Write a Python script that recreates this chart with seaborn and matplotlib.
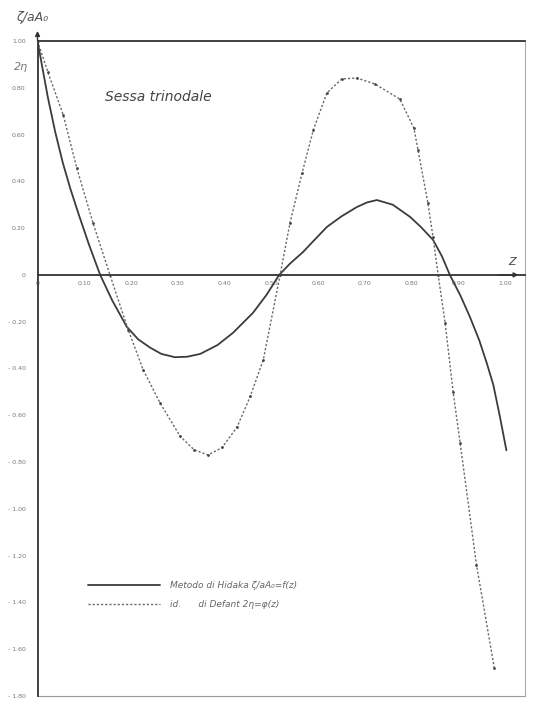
import numpy as np
import pandas as pd
import seaborn as sns
import matplotlib.pyplot as plt
from matplotlib.ticker import FixedLocator

# ---- data ----
z_hidaka = [0.0, 0.011, 0.022, 0.038, 0.054, 0.07, 0.087, 0.11, 0.134, 0.16, 0.191,
            0.215, 0.24, 0.265, 0.294, 0.32, 0.348, 0.385, 0.418, 0.461, 0.49, 0.517,
            0.54, 0.568, 0.595, 0.619, 0.65, 0.683, 0.705, 0.726, 0.76, 0.797, 0.82,
            0.846, 0.865, 0.882, 0.905, 0.925, 0.945, 0.961, 0.975, 0.989, 1.003]
f_hidaka = [1.00, 0.88, 0.76, 0.61, 0.48, 0.37, 0.265, 0.13, 0.0, -0.11, -0.222,
            -0.275, -0.31, -0.338, -0.352, -0.35, -0.338, -0.30, -0.248, -0.162, -0.085, 0.0,
            0.048, 0.098, 0.155, 0.205, 0.25, 0.29, 0.31, 0.32, 0.30, 0.248, 0.205,
            0.15, 0.08, 0.0, -0.09, -0.18, -0.28, -0.377, -0.47, -0.605, -0.75]

z_defant = [0.0, 0.022, 0.055, 0.084, 0.119, 0.155, 0.194, 0.226, 0.262, 0.305, 0.335,
            0.365, 0.395, 0.427, 0.455, 0.483, 0.519, 0.54, 0.566, 0.59, 0.619, 0.651,
            0.683, 0.722, 0.775, 0.805, 0.814, 0.835, 0.846, 0.857, 0.872, 0.889, 0.904,
            0.939, 0.977]
f_defant = [1.00, 0.868, 0.684, 0.457, 0.22, 0.0, -0.235, -0.406, -0.547, -0.69, -0.748,
            -0.77, -0.738, -0.65, -0.52, -0.363, 0.0, 0.222, 0.436, 0.62, 0.778, 0.838,
            0.842, 0.816, 0.752, 0.628, 0.534, 0.308, 0.162, 0.0, -0.206, -0.50, -0.718,
            -1.24, -1.68]

x_ticks = [0.0, 0.1, 0.2, 0.3, 0.4, 0.5, 0.6, 0.7, 0.8, 0.9, 1.0]
x_tick_labels = ["0", "0.10", "0.20", "0.30", "0.40", "0.50", "0.60", "0.70", "0.80", "0.90", "1.00"]
y_ticks = [1.0, 0.8, 0.6, 0.4, 0.2, 0.0, -0.2, -0.4, -0.6, -0.8, -1.0, -1.2, -1.4, -1.6, -1.8]
y_tick_labels = ["1.00", "0.80", "0.60", "0.40", "0.20", "0", "- 0.20", "- 0.40", "- 0.60",
                 "- 0.80", "- 1.00", "- 1.20", "- 1.40", "- 1.60", "- 1.80"]

label_hidaka = "Metodo di Hidaka ζ/aA₀=f(z)"
label_defant = "id.      di Defant 2η=φ(z)"

df_h = pd.DataFrame({"z": z_hidaka, "v": f_hidaka})
df_d = pd.DataFrame({"z": z_defant, "v": f_defant})

# ---- style ----
sns.set_style("white")
plt.rcParams["font.family"] = ["DejaVu Sans"]

ink = "#333333"
grey = "#777777"

fig = plt.figure(figsize=(5.33, 7.05), dpi=100)
ax = fig.add_axes([0.0704, 0.013, 0.9146, 0.9288])

sns.lineplot(data=df_h, x="z", y="v", sort=False, estimator=None, ax=ax,
             color="#3c3c3c", linewidth=1.3, label=label_hidaka)
sns.lineplot(data=df_d, x="z", y="v", sort=False, estimator=None, ax=ax,
             color="#6a6a6a", linewidth=1.0, linestyle=(0, (1.6, 1.4)), label=label_defant)
sns.scatterplot(data=df_d, x="z", y="v", ax=ax, color="#444444", s=4,
                linewidth=0, legend=False, zorder=3)

ax.set_xlim(0, 1.0428)
ax.set_ylim(-1.80, 1.0)
ax.set_xlabel("")
ax.set_ylabel("")

for side in ["left", "bottom", "top", "right"]:
    ax.spines[side].set_visible(True)
ax.spines["left"].set_color(ink)
ax.spines["left"].set_linewidth(1.3)
ax.spines["top"].set_color(ink)
ax.spines["top"].set_linewidth(1.3)
ax.spines["right"].set_color("#aaaaaa")
ax.spines["right"].set_linewidth(0.8)
ax.spines["bottom"].set_position(("data", 0))
ax.spines["bottom"].set_color(ink)
ax.spines["bottom"].set_linewidth(1.3)
ax.axhline(-1.80, color="#999999", linewidth=0.8, clip_on=False)

ax.xaxis.set_major_locator(FixedLocator(x_ticks))
ax.set_xticklabels(x_tick_labels)
ax.yaxis.set_major_locator(FixedLocator(y_ticks))
ax.set_yticklabels(y_tick_labels)
ax.xaxis.set_minor_locator(FixedLocator(np.arange(0.05, 1.0, 0.1)))
ax.yaxis.set_minor_locator(FixedLocator(np.arange(-1.7, 1.0, 0.2)))
ax.tick_params(axis="x", which="major", direction="inout", length=3, width=0.8,
               color=ink, labelsize=4.5, labelcolor=grey, pad=3)
ax.tick_params(axis="y", which="major", direction="inout", length=3, width=0.8,
               color=ink, labelsize=4.5, labelcolor=grey, pad=7)
ax.tick_params(which="minor", direction="inout", length=2, width=0.6, color=ink)

ax.annotate("", xy=(1.035, 0), xytext=(0.98, 0),
            arrowprops=dict(arrowstyle="-|>", color=ink, lw=1.0, mutation_scale=7),
            annotation_clip=False)
ax.annotate("", xy=(0, 1.055), xytext=(0, 0.99),
            arrowprops=dict(arrowstyle="-|>", color=ink, lw=1.0, mutation_scale=7),
            annotation_clip=False)

ax.text(1.015, 0.035, "Z", fontsize=8, fontstyle="italic", color="#444444",
        ha="center", va="bottom")
ax.text(0.145, 0.76, "Sessa trinodale", fontsize=10, fontstyle="italic",
        color="#444444", ha="left", va="center")
fig.text(0.06, 0.985, "ζ/aA₀", fontsize=9, fontstyle="italic", color="#555555",
         ha="center", va="top")
fig.text(0.04, 0.905, "2η", fontsize=8, fontstyle="italic", color="#777777",
         ha="center", va="center")

leg = ax.legend(loc="center left", bbox_to_anchor=(0.1036, 0.1534), frameon=False,
                fontsize=6.5, handlelength=8.0, handletextpad=1.1, labelspacing=1.1,
                borderpad=0, borderaxespad=0)
for t in leg.get_texts():
    t.set_fontstyle("italic")
    t.set_color("#666666")

fig.savefig("out.png", dpi=100)
